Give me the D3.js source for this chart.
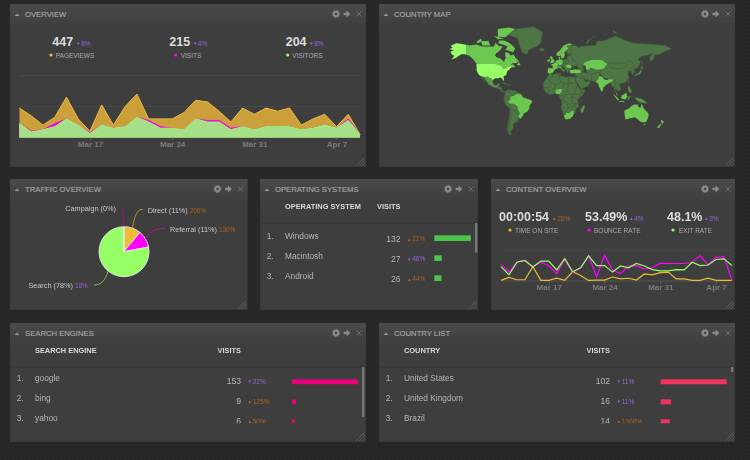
<!DOCTYPE html>
<html lang="en">
<head>
<meta charset="UTF-8" />
<title>Dashboard</title>
<script src="https://d3js.org/d3.v7.min.js"></script>
<style>
  html, body { margin: 0; padding: 0; background: #262626; }
  svg { display: block; font-family: "Liberation Sans", Arial, sans-serif; filter: blur(0.3px); }
  .tick text { font-family: "Liberation Sans", Arial, sans-serif; }
</style>
</head>
<body>
<svg id="dash" width="750" height="460"></svg>
<script>
// ---- data ----
const firstDay = Date.UTC(2013, 2, 11)
const days = d3.utcDay.range(new Date(firstDay), new Date(Date.UTC(2013, 3, 10)))
const weekTicks = [Date.UTC(2013, 2, 17), Date.UTC(2013, 2, 24), Date.UTC(2013, 2, 31), Date.UTC(2013, 3, 7)]

const pageviews = [19, 14, 8, 13, 26, 12, 4, 21, 8, 20, 28, 12, 12, 12, 16, 24, 23, 17, 10, 19, 15, 19, 17, 19, 8, 12, 15, 7, 15, 2]
const visits = [9, 4, 5, 9, 12, 8, 3, 8, 6, 7, 13, 11, 7, 6, 5, 12, 11, 11, 6, 7, 5, 7, 7, 7, 5, 6, 8, 6, 12, 2]
const visitors = [9, 3.5, 5, 7, 12, 8, 2.5, 8, 6, 7, 13, 10, 6, 6, 5, 12, 10, 10, 5, 7, 5, 7, 7, 7, 5, 6, 8, 6, 11, 2]

const bounceRate = [54, 30, 61, 67, 47, 61, 50, 24, 72, 28, 43, 82, 14, 84, 36, 24, 49, 50, 39, 43, 58, 57, 57, 57, 61, 83, 52, 78, 79, 2]
const exitRate = [47, 20, 61, 67, 46, 65, 65, 36, 73, 30, 43, 82, 50, 50, 29, 49, 43, 57, 49, 37, 33, 33, 37, 36, 61, 50, 52, 70, 72, 50]
const timeOnSite = [2, 12, 4, 4, 47, 2, 2, 9, 2, 30, 18, 2, 3, 3, 13, 7, 9, 3, 23, 20, 27, 29, 7, 7, 2, 2, 9, 2, 2, 2]

const overviewNumbers = ['447', '215', '204']
const overviewTrends = ['▼6%', '▼4%', '▼8%']
const overviewLabels = ['PAGEVIEWS', 'VISITS', 'VISITORS']
const contentNumbers = ['00:00:54', '53.49%', '48.1%']
const contentTrends = ['▲20%', '▲4%', '▲3%']
const contentLabels = ['TIME ON SITE', 'BOUNCE RATE', 'EXIT RATE']

const trafficNames = ['Direct', 'Referral', 'Search', 'Campaign']
const trafficShares = [11, 11, 78, 0]
const trafficChanges = ['200%', '130%', '18%', '']

const osNames = ['Windows', 'Macintosh', 'Android']
const osVisits = [132, 27, 26]
const osTrends = ['▲21%', '▼46%', '▲44%']
const engineNames = ['google', 'bing', 'yahoo']
const engineVisits = [153, 9, 6]
const engineTrends = ['▼22%', '▲125%', '▲50%']
const countryNames = ['United States', 'United Kingdom', 'Brazil']
const countryVisits = [102, 16, 14]
const countryTrends = ['▼11%', '▼11%', '▲1300%']

// rough country outlines in lon/lat, level = how many visits (0 none .. 3 most)
const worldShapes = [
  ['USA', 3, [[-124.7,48.4],[-123,49],[-95,49],[-89,48],[-84.5,46.5],[-82.5,45],[-82.5,42.5],[-79,43],[-76,44],[-75,45],[-71.5,45],[-69,47.3],[-67,45],[-70,43.5],[-70.5,41.7],[-74,40.5],[-75.5,37.5],[-76,35],[-81,31.5],[-80,27],[-80.5,25.2],[-82,27],[-83.5,29.5],[-86,30.4],[-89.5,29.5],[-94,29.5],[-97.2,27.5],[-97.5,26],[-99.5,27.5],[-101.5,29.8],[-103,29],[-106.5,31.8],[-111,31.3],[-114.8,32.5],[-117.2,32.5],[-120.5,34.5],[-122.5,37.5],[-124.2,40.3],[-124,44]]],
  ['Alaska', 3, [[-141,69.6],[-141,60],[-135,58.5],[-130,55],[-134,57.5],[-140,60],[-148,60.5],[-152,59],[-158,56],[-165,54.5],[-160,58.5],[-165,60.5],[-166,63],[-161,64.5],[-168,65.6],[-163,67],[-166,68.8],[-157,71],[-150,70.5]]],
  ['Canada', 2, [[-141,69.6],[-135,69],[-125,70],[-115,68],[-108,68],[-96,68],[-94,71.5],[-88,68.5],[-82,68],[-87,64],[-93,61],[-94.5,58.8],[-92,57],[-85,55.3],[-82,53],[-79.5,51.5],[-79,54.5],[-77,56],[-78,59],[-78,62.4],[-72,61.5],[-69.5,59],[-65,60],[-61,56],[-56,52.5],[-60,50.2],[-66,50],[-70,47.5],[-65,48.8],[-64.5,47],[-61,46],[-66,44],[-67,45],[-69,47.3],[-71.5,45],[-75,45],[-76,44],[-79,43],[-82.5,42.5],[-82.5,45],[-84.5,46.5],[-89,48],[-95,49],[-123,49],[-125,50],[-130,55],[-135,58.5],[-141,60]]],
  ['Baffin', 2, [[-80,73.5],[-72,71.5],[-68,70],[-62,66.5],[-65,62.5],[-72,64],[-78,65],[-74,68],[-82,70],[-89,71],[-88,73.5]]],
  ['Victoria', 2, [[-117,73],[-105,73],[-102,69],[-115,69]]],
  ['Banks', 2, [[-125,72],[-117,75],[-116,73],[-121,71]]],
  ['Ellesmere', 2, [[-90,76.5],[-78,76],[-62,82],[-72,83],[-90,82]]],
  ['Devon', 2, [[-96,77],[-80,75],[-90,74.5]]],
  ['Newfoundland', 2, [[-59,47.8],[-53,47],[-56,51.5]]],
  ['Greenland', 0, [[-73,78],[-60,82],[-32,83.5],[-18,80],[-20,72],[-26,68.5],[-40,65],[-43,60],[-50,62],[-54,68],[-58,75]]],
  ['Iceland', 0, [[-24,65.5],[-18,66.4],[-14,65],[-19,63.4]]],
  ['Mexico', 1, [[-117.2,32.5],[-114.8,32.5],[-111,31.3],[-106.5,31.8],[-103,29],[-101.5,29.8],[-99.5,27.5],[-97.5,26],[-97.8,22],[-95,18.6],[-91,18.6],[-90.5,21],[-87,21.5],[-88,18],[-92,14.5],[-97,15.8],[-105,20],[-109,26],[-113,31],[-114.8,31.8],[-110,23],[-115,29.5]]],
  ['Central America', 0, [[-92,14.5],[-88,18],[-88,16],[-83.5,15],[-83.5,10.5],[-79,9.5],[-77.3,8],[-78,7.3],[-81,7.5],[-85.5,10],[-88,13]]],
  ['Cuba', 0, [[-84.5,22],[-80,23],[-74.2,20.2],[-78,20],[-82,22]]],
  ['Hispaniola', 0, [[-74,19.8],[-69,19.5],[-69,18.3],[-74,18]]],
  ['Brazil', 2, [[-60,5],[-52,4],[-50,0],[-44,-2.5],[-35,-5.5],[-35,-9],[-39,-14],[-39,-18],[-42,-23],[-48,-26],[-50,-30],[-53.5,-33.7],[-57.5,-30],[-54.5,-26],[-55,-24],[-58,-20],[-58,-16],[-60,-14],[-65,-11],[-70,-11],[-74,-7.5],[-70,-4],[-70,0],[-67,1.5],[-64,2]]],
  ['Colombia', 0, [[-77.3,8],[-75.5,10.8],[-71.5,12.3],[-72,8],[-67.5,6],[-67,1.5],[-70,0],[-70,-4],[-75,0],[-79,1.5]]],
  ['Venezuela', 0, [[-71.5,12.3],[-68,10.7],[-62,10.7],[-60,8.5],[-61,5],[-64,2],[-67,1.5],[-67.5,6],[-72,8]]],
  ['Guianas', 0, [[-60,8.5],[-54,5.8],[-51.7,4],[-54,2.2],[-60,2],[-60,5],[-61,5]]],
  ['Ecuador', 0, [[-79,1.5],[-75,0],[-75.5,-2],[-79,-4.5],[-81,-2]]],
  ['Peru', 0, [[-81,-4.5],[-79,-4.5],[-75.5,-2],[-75,0],[-70,-4],[-74,-7.5],[-70,-11],[-69,-16],[-70.5,-18],[-76,-14]]],
  ['Bolivia', 0, [[-70,-11],[-65,-11],[-60,-14],[-58,-16],[-58,-20],[-62.5,-22],[-68,-22.8],[-69,-18],[-69,-16]]],
  ['Paraguay', 0, [[-58,-20],[-55,-24],[-54.5,-26],[-58,-27],[-62.5,-22]]],
  ['Chile', 0, [[-70.5,-18],[-69,-18],[-68,-22.8],[-70,-33],[-72,-44],[-72,-50],[-68.5,-52.5],[-68,-55],[-72,-54],[-75,-48],[-73,-37],[-71,-29]]],
  ['Argentina', 0, [[-68,-22.8],[-62.5,-22],[-58,-27],[-54.5,-26],[-57.5,-30],[-58.3,-34],[-57,-38],[-62,-39],[-65,-41],[-65,-46],[-69,-51],[-68.5,-52.5],[-72,-50],[-72,-44],[-70,-33]]],
  ['Uruguay', 0, [[-57.5,-30],[-53.5,-33.7],[-58.3,-34]]],
  ['Morocco', 0, [[-13,27.7],[-9.8,31.5],[-6,35.8],[-2,35],[-1.5,32],[-8.7,27.7]]],
  ['Mauritania', 0, [[-17,21],[-13,27.7],[-8.7,27.7],[-5,25],[-6,15.5],[-12,15],[-16.5,16]]],
  ['Algeria', 0, [[-8.7,27.7],[-1.5,32],[-2,35],[8.5,37],[9,30],[12,23.5],[6,19],[3,19],[-5,25]]],
  ['Tunisia', 0, [[8.5,37],[11,37],[10.2,33.5],[9,30]]],
  ['Libya', 0, [[9,30],[10.2,33.5],[15,32.5],[20,31],[25,31.5],[25,20],[24,19.5],[15,23],[12,23.5]]],
  ['Egypt', 0, [[25,31.5],[32,31],[34.5,31.5],[34,28],[37,22],[25,22]]],
  ['Sudan', 0, [[24,19.5],[25,20],[25,22],[37,22],[38,18],[36,13],[34,9],[35,4.5],[30,3.7],[27.5,5],[23,9],[22,13]]],
  ['Chad', 0, [[15,23],[24,19.5],[22,13],[19,9],[15.5,7.5],[14,13],[15.5,17]]],
  ['Niger', 0, [[12,23.5],[15,23],[15.5,17],[14,13],[8,13],[3.5,11.7],[1,14],[3,19],[6,19]]],
  ['Mali', 0, [[-5,25],[3,19],[1,14],[-3,11],[-8,10.5],[-12,15],[-6,15.5]]],
  ['Guinea coast', 0, [[-16.5,16],[-12,15],[-8,10.5],[-8,4.5],[-13,8.5],[-17,14.5]]],
  ['Ghana', 0, [[-8,10.5],[-3,11],[1,14],[3.5,11.7],[2.7,6.3],[-2,4.8],[-8,4.5]]],
  ['Nigeria', 2, [[2.7,6.3],[3.5,11.7],[8,13],[14,13],[13,8],[9,4.5],[5,5]]],
  ['Cameroon', 0, [[9,4.5],[13,8],[14,13],[15.5,7.5],[19,9],[22,13],[23,9],[27.5,5],[18.5,3.5],[16,2],[9.5,2]]],
  ['Gabon', 0, [[9.5,2],[16,2],[18.5,3.5],[16,-3],[12,-5],[9,-1]]],
  ['DRC', 0, [[18.5,3.5],[27.5,5],[30,3.7],[29,-4],[30,-8],[28,-12],[22,-11],[20,-7],[13,-6],[12,-5],[16,-3]]],
  ['Ethiopia', 0, [[36,13],[38,18],[43,12],[48,8],[42,4],[35,4.5],[34,9]]],
  ['Somalia', 0, [[43,11.5],[51,12],[48,4],[41.5,-1.5],[41,4],[48,8]]],
  ['Kenya', 0, [[30,3.7],[35,4.5],[41,4],[41.5,-1.5],[39,-4.5],[34,-1],[30,-1]]],
  ['Tanzania', 0, [[30,-1],[34,-1],[39,-4.5],[40,-10.5],[34,-11],[30,-8],[29,-4]]],
  ['Angola', 0, [[13,-6],[20,-7],[22,-11],[24,-17.5],[12,-17.5],[13.5,-11]]],
  ['Zambia', 0, [[22,-11],[28,-12],[30,-8],[34,-11],[35,-15],[30,-16],[25,-18],[24,-17.5]]],
  ['Mozambique', 0, [[34,-11],[40,-10.5],[40,-16],[35,-20],[35.5,-24],[32.8,-26],[32,-21],[30,-16],[35,-15]]],
  ['Namibia', 0, [[12,-17.5],[24,-17.5],[25,-18],[20,-22],[20,-28],[16.5,-28.5],[14.5,-22]]],
  ['Botswana', 0, [[20,-22],[25,-18],[30,-16],[32,-21],[29,-22.3],[25,-25.5],[20,-25]]],
  ['South Africa', 2, [[16.5,-28.5],[20,-28],[20,-25],[25,-25.5],[29,-22.3],[32,-21],[32.8,-26],[31,-30],[26,-34],[20,-34.8],[18,-33]]],
  ['Madagascar', 1, [[49.5,-12],[50.5,-16],[47,-25],[44,-25],[43.5,-20],[46,-16]]],
  ['UK', 2, [[-5.5,50],[1.5,51],[1.5,53],[-1.5,55.5],[-2,57.5],[-5,58.5],[-6,56],[-3,54],[-5,52]]],
  ['Ireland', 2, [[-10,52],[-6,52],[-6,55],[-10,54]]],
  ['Iberia', 2, [[-9.5,37],[-6,36],[-2,37],[0,39],[3,42],[-2,43.5],[-9,43.5]]],
  ['France', 2, [[-2,43.5],[3,42],[7.5,43.8],[6,46],[8,49],[2.5,51],[-1.5,49],[-4.5,48.5],[-1,46]]],
  ['Germany', 2, [[2.5,51],[4,53],[8.5,54],[9,55],[14,54],[15,51],[13,48],[8,47.5],[8,49]]],
  ['Italy', 1, [[6,46],[7.5,43.8],[10.5,43],[15,40],[16,38],[18.3,40],[13,44],[13.5,46.5],[8,47.5]]],
  ['Denmark', 2, [[8,57],[10.5,57.5],[10,55],[8.5,54.8]]],
  ['Norway', 2, [[5,59],[8,58],[11,59],[12.5,61],[14,65],[18,68.5],[25,69],[31,70],[25,71],[16,69],[10,64],[5,62]]],
  ['Sweden', 2, [[11,59],[13,55.5],[16.5,56.5],[18.5,60],[17,62],[21,64.5],[24,66],[20.5,69],[18,68.5],[14,65],[12.5,61]]],
  ['Finland', 0, [[24,66],[21,64],[21.5,61],[25,60],[30,62],[29,69],[31,70],[25,69],[20.5,69]]],
  ['Poland', 0, [[14,54],[19,54.5],[23.5,54],[24,50.5],[22,49],[15,51]]],
  ['Austria', 0, [[13,48],[15,51],[22,49],[22.5,48],[19,46],[13.5,46.5],[8,47.5]]],
  ['Balkans', 0, [[13.5,46.5],[19,46],[22,44],[28,43.5],[26,41],[24,40],[23,36.5],[20,40],[18.5,42.5]]],
  ['Romania', 2, [[19,46],[22.5,48],[27,48],[29.5,45],[28,43.5],[22,44]]],
  ['Ukraine', 0, [[23.5,54],[21,55],[24,59],[28,59.5],[32,53],[40,50],[38,47],[33,46],[30,46],[27,48],[22.5,48],[22,49],[24,50.5]]],
  ['Turkey', 2, [[26,41],[29,41.2],[35,42],[41.5,41.5],[44.5,39.5],[44,37.2],[36,36.7],[30,36.3],[27,37],[26,39]]],
  ['Caucasus', 0, [[40,43.5],[48,42],[49,40],[44.5,39.5],[41.5,41.5]]],
  ['Russia', 0, [[28,59.5],[29,69],[33,69.5],[41,67],[44,68],[60,69],[68,69],[70,73],[80,73],[100,77],[113,74],[130,71],[160,70],[180,69],[190,66],[178,63],[170,60],[163,60],[162,56],[156,51],[155,57],[160,61.5],[150,59],[141,58],[136,54],[141,52],[135,43.5],[131,43],[130,48],[127,50],[123,53.5],[116,50],[107,50],[98,50],[87,49],[77,54],[61,54],[50,51],[47,48],[48,42],[40,43.5],[38,47],[40,50],[32,53]]],
  ['Novaya Zemlya', 0, [[52,71],[56,74],[68,77],[58,74],[55,71]]],
  ['Severnaya Zemlya', 0, [[95,80],[100,79],[104,78],[98,81]]],
  ['Sakhalin', 0, [[142,54],[143.5,49],[142,46]]],
  ['Kazakhstan', 2, [[47,48],[50,51],[61,54],[77,54],[87,49],[80,42.5],[70,41],[60,44],[56,41.5],[52,42],[52,46.5]]],
  ['Central Asia', 0, [[52,42],[56,41.5],[60,44],[70,41],[80,42.5],[74,38],[67,37],[61,35.5],[54,37.5]]],
  ['Mongolia', 0, [[87,49],[98,50],[107,50],[116,50],[119,47],[111,43.5],[100,42.5],[91,45]]],
  ['China', 0, [[80,42.5],[87,49],[91,45],[100,42.5],[111,43.5],[119,47],[116,50],[123,53.5],[127,50],[130,48],[131,43],[125,40],[121,39],[118,38.5],[122,37],[119,35],[122,31],[120,26],[114,22.3],[108,21.5],[102,22],[98,24.5],[98,28],[88,28],[79,31],[74,38]]],
  ['Korea', 0, [[125,40],[131,43],[129.5,36],[126.5,34.5]]],
  ['Japan', 1, [[130,32],[135,34],[140,35.5],[142,39.5],[140.5,41],[137,37],[132,35]]],
  ['Hokkaido', 1, [[140,42],[145,43.5],[142,45.5]]],
  ['Iran', 0, [[44.5,39.5],[49,37.5],[54,37.5],[61,35.5],[61.5,31],[62,25.2],[57,25.5],[56,27],[51,28],[48,30],[46,33],[44,37.2]]],
  ['Iraq', 0, [[36,36.7],[44,37.2],[46,33],[48,30],[45,29.2],[39,32],[35,32.5]]],
  ['Arabia', 0, [[34.5,29],[39,32],[45,29.2],[48,30],[51,25],[56,25],[59.5,22.5],[55,17],[44,12.8],[42.5,16],[39,21]]],
  ['Pakistan', 0, [[61,35.5],[67,37],[74,38],[74,33],[71,27.5],[68,23.7],[62,25.2],[61.5,31]]],
  ['India', 2, [[74,33],[79,31],[81,28],[88,26.5],[88,28],[92,28],[97,28],[94,24],[92,23],[89,22],[85,19.5],[80,15],[80,12],[77.5,8],[73,17],[72,21],[68,23.7],[71,27.5]]],
  ['Myanmar', 0, [[92,23],[94,24],[97,28],[98,24.5],[100,20],[98,16],[98.5,10.5],[97,17],[94,16],[94,19]]],
  ['Indochina', 0, [[98,24.5],[102,22],[108,21.5],[106,18],[109,13],[106,9],[103,11],[100,13.5],[99,10],[98.5,10.5],[98,16],[100,20]]],
  ['Malaya', 2, [[99.5,9],[100.5,6.5],[103.5,1.5],[103,5]]],
  ['Sumatra', 2, [[95.5,5.5],[104,-2],[106,-6],[101,-3]]],
  ['Borneo', 2, [[109,1.5],[117,7],[119,1],[116,-4],[110,-3]]],
  ['Java', 2, [[105.5,-6.5],[114,-7],[114,-8.5],[106,-7.5]]],
  ['Sulawesi', 1, [[120,1],[125,1.5],[122,-2],[122,-5],[119.5,-5]]],
  ['New Guinea', 1, [[131,-1],[141,-2.6],[147,-6],[150.5,-10.5],[141,-9],[138,-8],[133,-4]]],
  ['Philippines', 1, [[120.5,18],[122,18],[124,13],[126,7],[122,7],[120,14]]],
  ['Taiwan', 1, [[121,25],[121,22],[120,23]]],
  ['Australia', 2, [[114,-22],[122,-18],[126,-14],[130,-12],[136,-12],[136,-15],[140,-17.5],[142,-11],[146,-19],[153,-26],[153,-31],[150,-37.5],[146,-39],[140,-38],[136,-35],[131,-31.5],[124,-33],[116,-35],[115,-31]]],
  ['Tasmania', 2, [[145,-41],[148,-41],[147,-43.5]]],
  ['NZ north', 2, [[173,-35],[178,-38],[175,-41.5],[174,-39]]],
  ['NZ south', 2, [[172,-41],[174,-42],[170,-46.5],[166.5,-46]]]
]

// ---- colours ----
const orange = '#efbb35'
const magenta = '#ff00ff'
const green = '#96ff66'
const upColor = '#b0621c'
const downColor = '#9a62d8'

const svg = d3.select('#dash')
const defs = svg.append('defs')

const headGrad = defs.append('linearGradient').attr('id', 'head').attr('x1', 0).attr('y1', 0).attr('x2', 0).attr('y2', 1)
headGrad.append('stop').attr('offset', 0).attr('stop-color', '#4a4a4a')
headGrad.append('stop').attr('offset', 1).attr('stop-color', '#3e3e3e')

const weave = defs.append('pattern').attr('id', 'weave').attr('width', 4).attr('height', 4).attr('patternUnits', 'userSpaceOnUse')
weave.append('rect').attr('width', 4).attr('height', 4).attr('fill', '#272727')
weave.append('rect').attr('width', 1).attr('height', 1).attr('x', 1).attr('y', 1).attr('fill', '#2c2c2c')
weave.append('rect').attr('width', 1).attr('height', 1).attr('x', 3).attr('y', 3).attr('fill', '#232323')

svg.append('rect').attr('width', 750).attr('height', 460).attr('fill', 'url(#weave)')

// one dashboard box with title, icons and the corner grip
function panel(x, y, w, h, title) {
  const g = svg.append('g').attr('transform', `translate(${x},${y})`)
  g.append('rect').attr('width', w).attr('height', h).attr('fill', '#3e3e3e')
    .attr('stroke', '#333').attr('stroke-width', 0.5)
  g.append('rect').attr('width', w).attr('height', 22).attr('fill', 'url(#head)')
  g.append('path').attr('d', 'M4.5 12 L7 9.5 L9.5 12 Z').attr('fill', '#999')
  g.append('text').attr('x', 15).attr('y', 13).attr('font-size', 7.7)
    .attr('fill', '#a6a6a6').attr('stroke', '#a6a6a6').attr('stroke-width', 0.15).text(title)

  const ix = w - 30
  g.append('circle').attr('cx', ix).attr('cy', 10).attr('r', 2.2).attr('fill', 'none')
    .attr('stroke', '#8a8a8a').attr('stroke-width', 1.9)
  g.append('circle').attr('cx', ix).attr('cy', 10).attr('r', 3.6).attr('fill', 'none')
    .attr('stroke', '#8a8a8a').attr('stroke-width', 1).attr('stroke-dasharray', '1.4 1.4')
  g.append('path').attr('transform', `translate(${w - 22.5},10)`)
    .attr('d', 'M0 -1.3 H3 V-3.4 L7 0 L3 3.4 V1.3 H0 Z').attr('fill', '#8a8a8a')
  g.append('path').attr('transform', `translate(${w - 7},10)`)
    .attr('d', 'M-2.6 -2.6 L2.6 2.6 M-2.6 2.6 L2.6 -2.6').attr('stroke', '#777').attr('stroke-width', 0.8)
  ;[2, 5, 8].forEach(function (d) {
    g.append('line').attr('x1', w - 1.5 - d).attr('y1', h - 1.5).attr('x2', w - 1.5).attr('y2', h - 1.5 - d)
      .attr('stroke', '#888').attr('stroke-width', 0.7).attr('stroke-dasharray', '1 0.6')
  })
  return g
}

// small up/down figure, the arrow a little smaller than the digits
function trendText(g, x, y, trend, color) {
  const t = g.append('text').attr('x', x).attr('y', y).attr('font-size', 6.6).attr('fill', color)
  t.append('tspan').attr('font-size', 4.6).attr('dy', -0.5).text(trend[0])
  t.append('tspan').attr('dy', 0.5).attr('dx', 0.6).text(trend.slice(1))
}

// big number + trend + dot and caption
function stat(g, numX, trendX, dotX, labelX, number, trend, trendColor, label, dotColor, size) {
  g.append('text').attr('x', numX).attr('y', 41.5).attr('font-size', size).attr('font-weight', 'bold')
    .attr('fill', '#dcdcdc').text(number)
  trendText(g, trendX, 41.5, trend, trendColor)
  g.append('circle').attr('cx', dotX).attr('cy', 51).attr('r', 1.6).attr('fill', dotColor)
  g.append('text').attr('x', labelX).attr('y', 53.7).attr('font-size', 6.5)
    .attr('fill', '#a9a9a9').text(label)
}

function dateAxis(g, x, y) {
  const axis = d3.axisBottom(x).tickValues(weekTicks.map(d => new Date(d)))
    .tickSize(2.5).tickPadding(1).tickFormat(d3.utcFormat('%b %-d'))
  const a = g.append('g').attr('transform', `translate(0,${y})`).call(axis)
  a.select('.domain').remove()
  a.selectAll('.tick line').attr('stroke', '#666')
  a.selectAll('.tick text').attr('fill', '#7a7a7a').attr('font-size', 8).attr('font-weight', 'bold')
}

// ---- overview ----
const overview = panel(10, 4, 356, 163, 'OVERVIEW')
const ovColors = [orange, magenta, green]
const ovX = [[42.3, 66, 41, 45.7], [159.3, 182.7, 165.7, 170.7], [275.7, 299, 277.7, 282.3]]
overviewNumbers.forEach(function (n, i) {
  stat(overview, ovX[i][0], ovX[i][1], ovX[i][2], ovX[i][3], n, overviewTrends[i], downColor, overviewLabels[i], ovColors[i], 12.5)
})

const ovTime = d3.scaleUtc().domain([days[0], days[29]]).range([9.5, 350])
const ovY = d3.scaleLinear().domain([0, 40]).range([133.5, 71.5])
;[20, 40].forEach(function (t) {
  overview.append('line').attr('x1', 9).attr('x2', 350).attr('y1', ovY(t)).attr('y2', ovY(t))
    .attr('stroke', '#4a4a4a').attr('stroke-width', 0.8)
})
const ovLayers = [
  { values: pageviews, fill: '#cba03a', line: '#eebc38' },
  { values: visits, fill: '#f000e0', line: '#ff00ff' },
  { values: visitors, fill: '#a6e189', line: '#96ff66' }
]
ovLayers.forEach(function (s) {
  const area = d3.area().x((d, i) => ovTime(days[i])).y0(ovY(0)).y1(d => ovY(d))
  const line = d3.line().x((d, i) => ovTime(days[i])).y(d => ovY(d))
  overview.append('path').attr('d', area(s.values)).attr('fill', s.fill)
  overview.append('path').attr('d', line(s.values)).attr('fill', 'none').attr('stroke', s.line).attr('stroke-width', 1)
})
overview.append('line').attr('x1', 9.5).attr('x2', 350).attr('y1', ovY(0)).attr('y2', ovY(0))
  .attr('stroke', '#8fd86e').attr('stroke-width', 0.8)
overview.append('line').attr('x1', 9.5).attr('x2', 9.5).attr('y1', ovY(0)).attr('y2', ovY(visitors[0]))
  .attr('stroke', '#c8eeb4').attr('stroke-width', 0.6)
dateAxis(overview, ovTime, 133.8)

// ---- country map ----
const mapPanel = panel(379, 4, 356, 163, 'COUNTRY MAP')
const miller = lat => 1.25 * Math.log(Math.tan(Math.PI / 4 + 0.4 * lat * Math.PI / 180))
const lonScale = d3.scaleLinear().domain([0, 180]).range([174.6, 174.6 + 0.62 * 180])
const latScale = d3.scaleLinear().domain([0, 1]).range([93, 93 - 35.5])
const levelColor = d3.scaleOrdinal().domain([0, 1, 2, 3]).range(['#4e7545', '#5b9a4d', '#6cc850', '#99ff66'])
const mapPath = d3.geoPath(d3.geoTransform({
  point: function (lon, lat) { this.stream.point(lonScale(lon), latScale(miller(lat))) }
}))
mapPanel.selectAll('path.land')
  .data(worldShapes.slice().sort((a, b) => a[1] - b[1]))
  .enter()
  .append('path')
  .attr('class', 'land')
  .attr('d', d => mapPath({ type: 'Polygon', coordinates: [d[2].concat([d[2][0]])] }))
  .attr('fill', d => levelColor(d[1]))
  .attr('stroke', d => d[1] >= 2 ? 'none' : '#426339')
  .attr('stroke-width', 0.5)

// ---- traffic pie ----
const traffic = panel(10, 179, 237.5, 131, 'TRAFFIC OVERVIEW')
const pieColors = [orange, magenta, green, '#b0107f']
const pieR = 25
const pieG = traffic.append('g').attr('transform', 'translate(114,72.7)')
const pieData = d3.pie().sort(null)(trafficShares)
const arc = d3.arc().innerRadius(0).outerRadius(pieR)
pieG.selectAll('path.slice').data(pieData).enter().append('path').attr('class', 'slice')
  .attr('d', arc).attr('fill', (d, i) => pieColors[i]).attr('stroke', '#e8e8e8').attr('stroke-width', 0.9)

// label and leader ends relative to the pie centre, leaders leave the rim at each slice's middle angle
const pieLabelAt = [[23.7, -38.7], [46, -19.7], [-51, 36.3], [-8, -40.7]]
const pieLeaderEnd = [[18.7, -42.4], [41, -23.4], [-30, 33.3], [-2.3, -44.4]]
const leaderColors = ['#c39a2d', '#c010b0', '#7ed04f', '#b0107f']
const labelText = trafficNames.map((n, i) => `${n} (${trafficShares[i]}%)`)
pieData.forEach(function (d, i) {
  const mid = i === 3 ? 0 : (d.startAngle + d.endAngle) / 2
  const sx = Math.sin(mid) * pieR, sy = -Math.cos(mid) * pieR
  const ex = pieLeaderEnd[i][0], ey = pieLeaderEnd[i][1]
  pieG.append('path')
    .attr('d', `M${sx},${sy} C${sx + (ex - sx) * 0.2},${sy + (ey - sy) * 0.7} ${sx + (ex - sx) * 0.5},${ey} ${ex},${ey}`)
    .attr('fill', 'none').attr('stroke', leaderColors[i]).attr('stroke-width', 0.9)
  const end = pieLabelAt[i]
  const t = pieG.append('text').attr('x', end[0]).attr('y', end[1]).attr('font-size', 7.3).attr('fill', '#c8c8c8')
    .attr('text-anchor', i === 2 || i === 3 ? 'end' : 'start')
  t.append('tspan').text(labelText[i])
  if (i < 2) {
    t.append('tspan').attr('dx', 2).attr('font-size', 6.4).attr('fill', upColor).text(trafficChanges[i])
  }
  if (i === 2) {
    pieG.append('text').attr('x', end[0] + 2).attr('y', end[1])
      .attr('font-size', 6.4).attr('fill', downColor).text(trafficChanges[i])
  }
})

// ---- list panels ----
let clipCount = 0
function listPanel(x, y, w, h, title, heading, names, values, trends, o) {
  const g = panel(x, y, w, h, title)
  g.append('text').attr('x', o.nameX).attr('y', 30).attr('font-size', 7.4).attr('font-weight', 'bold')
    .attr('fill', '#d8d8d8').text(heading)
  g.append('text').attr('x', o.valueX).attr('y', 30).attr('text-anchor', 'end').attr('font-size', 7.4).attr('font-weight', 'bold')
    .attr('fill', '#d8d8d8').text('VISITS')
  g.append('line').attr('x1', 0).attr('x2', w).attr('y1', 44).attr('y2', 44).attr('stroke', '#333').attr('stroke-width', 0.8)

  const id = 'list' + clipCount++
  defs.append('clipPath').attr('id', id).append('rect').attr('x', 0).attr('y', 44).attr('width', w).attr('height', o.clip)
  const body = g.append('g').attr('clip-path', `url(#${id})`)

  const rowY = d3.scalePoint().domain(names).range([56.3, 96.3])
  const barW = d3.scaleLinear().domain([0, d3.max(values)]).range([0, o.barMax])
  names.forEach(function (n, i) {
    const yy = rowY(n)
    body.append('text').attr('x', 6.7).attr('y', yy + o.nameDy).attr('font-size', 8.3).attr('fill', '#b5b5b5').text((i + 1) + '.')
    body.append('text').attr('x', o.nameX).attr('y', yy + o.nameDy).attr('font-size', 8.3).attr('fill', '#b5b5b5').text(n)
    body.append('text').attr('x', o.valueX).attr('y', yy + o.valueDy).attr('text-anchor', 'end').attr('font-size', 8.6)
      .attr('fill', '#b5b5b5').text(values[i])
    trendText(body, o.valueX + 6.5, yy + o.valueDy - 0.2, trends[i], trends[i][0] === '▲' ? upColor : downColor)
    body.append('rect').attr('x', o.barX).attr('y', yy).attr('width', barW(values[i])).attr('height', o.barH)
      .attr('fill', o.color)
  })
  g.append('rect').attr('x', w - o.scrollInset).attr('y', 44).attr('width', 2.4).attr('height', o.scrollLen)
    .attr('fill', '#777')
}

listPanel(260, 179, 218, 131, 'OPERATING SYSTEMS', 'OPERATING SYSTEM', osNames, osVisits, osTrends,
  { nameX: 25, valueX: 140.5, barX: 174.3, barMax: 36.5, barH: 5.7, nameDy: 3.7, valueDy: 6.2, color: '#4cc44c', clip: 87, scrollInset: 3, scrollLen: 29.5 })
listPanel(10, 323, 356, 119, 'SEARCH ENGINES', 'SEARCH ENGINE', engineNames, engineVisits, engineTrends,
  { nameX: 25, valueX: 231, barX: 282, barMax: 66, barH: 5, nameDy: 1.7, valueDy: 4.7, color: '#e6007e', clip: 56.3, scrollInset: 4, scrollLen: 50 })
listPanel(379, 323, 356, 119, 'COUNTRY LIST', 'COUNTRY', countryNames, countryVisits, countryTrends,
  { nameX: 25, valueX: 231, barX: 281.7, barMax: 66, barH: 5, nameDy: 1.7, valueDy: 4.7, color: '#f0325f', clip: 56.3, scrollInset: 4, scrollLen: 5 })

// ---- content overview ----
const content = panel(491, 179, 244, 131, 'CONTENT OVERVIEW')
const ctColors = [orange, magenta, green]
const ctX = [[8, 61, 19, 24], [94, 138, 98, 103], [176, 213, 182, 188]]
const ctTrendColors = [upColor, downColor, downColor]
contentNumbers.forEach(function (n, i) {
  stat(content, ctX[i][0], ctX[i][1], ctX[i][2], ctX[i][3], n, contentTrends[i], ctTrendColors[i], contentLabels[i], ctColors[i], 12.5)
})
const ctTime = d3.scaleUtc().domain([days[0], days[29]]).range([10, 241])
const ctY = d3.scaleLinear().domain([0, 100]).range([102, 71.3])
content.append('line').attr('x1', 10).attr('x2', 241).attr('y1', ctY(100)).attr('y2', ctY(100))
  .attr('stroke', '#4a4a4a').attr('stroke-width', 0.8)
content.append('line').attr('x1', 10).attr('x2', 241).attr('y1', ctY(0)).attr('y2', ctY(0))
  .attr('stroke', '#5a5a5a').attr('stroke-width', 0.8)
const ctLine = d3.line().x((d, i) => ctTime(days[i])).y(d => ctY(d))
;[[timeOnSite, orange], [bounceRate, magenta], [exitRate, green]].forEach(function (s) {
  content.append('path').attr('d', ctLine(s[0])).attr('fill', 'none').attr('stroke', s[1]).attr('stroke-width', 1.2)
})
dateAxis(content, ctTime, 102.3)
</script>
</body>
</html>
